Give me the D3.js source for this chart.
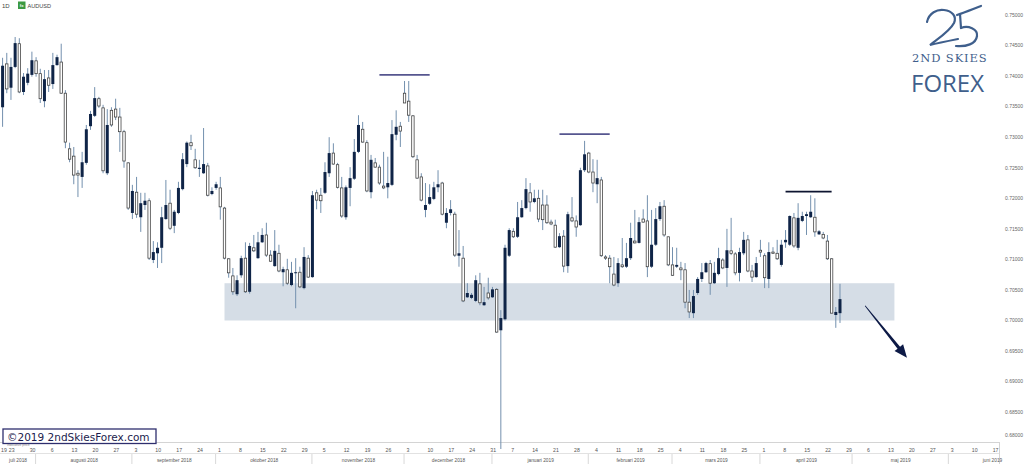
<!DOCTYPE html>
<html><head><meta charset="utf-8">
<script src="https://cdn.jsdelivr.net/npm/d3@7"></script>
<style>html,body{margin:0;padding:0;background:#fff;overflow:hidden}</style>
</head><body>
<svg id="c" width="1024" height="464"></svg>
<script>
// ---------- DATA ----------
const symbol = "AUDUSD";
const timeframe = "1D";
const firstDate = "2018-07-19";   // first candle
const lastDate  = "2019-04-26";   // last candle
const axisEnd   = "2019-06-20";   // right edge of time axis
const opens = [.7397,.7349,.7420,.7381,.7415,.7453,.7374,.7389,.7402,.7425,
.7404,.7359,.7397,.7387,.7418,.7423,.7372,.7281,.7269,.7241,
.7235,.7258,.7318,.7335,.7363,.7348,.7241,.7344,.7346,.7333,
.7309,.7258,.7176,.7210,.7169,.7189,.7196,.7099,.7110,.7119,
.7166,.7192,.7155,.7176,.7215,.7256,.7291,.7263,.7248,.7241,
.7253,.7207,.7217,.7217,.7184,.7101,.7073,.7043,.7074,.7102,
.7047,.7119,.7102,.7128,.7140,.7107,.7089,.7110,.7079,.7083,
.7058,.7078,.7079,.7053,.7102,.7071,.7209,.7205,.7209,.7241,
.7274,.7255,.7217,.7169,.7217,.7232,.7276,.7313,.7291,.7210,
.7258,.7251,.7220,.7218,.7222,.7304,.7318,.7372,.7359,.7335,
.7263,.7235,.7181,.7191,.7199,.7218,.7225,.7160,.7176,.7174,
.7106,.7102,.7038,.7037,.7032,.7060,.7025,.7045,.7038,.7051,
.6984,.7002,.7106,.7146,.7137,.7169,.7184,.7209,.7194,.7200,
.7189,.7189,.7161,.7156,.7120,.7138,.7089,.7168,.7163,.7156,
.7246,.7274,.7243,.7223,.7230,.7104,.7102,.7076,.7061,.7091,
.7088,.7102,.7130,.7127,.7166,.7163,.7088,.7124,.7166,.7187,
.7137,.7091,.7088,.7086,.7083,.7030,.7012,.7045,.7068,.7079,
.7093,.7061,.7076,.7099,.7086,.7114,.7109,.7078,.7110,.7132,
.7081,.7071,.7115,.7106,.7068,.7112,.7110,.7091,.7128,.7124,
.7168,.7119,.7163,.7171,.7169,.7169,.7141,.7141,.7130,.7101,
.7009,.7012];
const highs = [.7402,.7430,.7438,.7430,.7464,.7462,.7405,.7413,.7440,.7431,
.7412,.7410,.7410,.7438,.7435,.7453,.7377,.7291,.7284,.7246,
.7276,.7320,.7343,.7382,.7366,.7353,.7346,.7349,.7363,.7348,
.7312,.7259,.7222,.7235,.7209,.7209,.7200,.7130,.7128,.7186,
.7230,.7214,.7181,.7227,.7274,.7293,.7304,.7281,.7263,.7315,
.7258,.7218,.7227,.7235,.7186,.7102,.7086,.7074,.7106,.7128,
.7127,.7140,.7145,.7151,.7160,.7115,.7148,.7124,.7088,.7101,
.7096,.7102,.7088,.7120,.7107,.7212,.7214,.7217,.7259,.7300,
.7290,.7258,.7235,.7221,.7251,.7297,.7336,.7325,.7295,.7271,
.7266,.7255,.7276,.7268,.7328,.7344,.7325,.7392,.7392,.7336,
.7271,.7241,.7225,.7223,.7227,.7246,.7227,.7184,.7197,.7178,
.7148,.7122,.7061,.7045,.7074,.7078,.7055,.7070,.7055,.7053,
.7017,.7124,.7151,.7151,.7194,.7197,.7233,.7225,.7214,.7214,
.7214,.7205,.7165,.7165,.7143,.7148,.7178,.7202,.7172,.7250,
.7294,.7276,.7264,.7263,.7235,.7107,.7107,.7104,.7102,.7135,
.7127,.7160,.7181,.7169,.7182,.7205,.7181,.7184,.7194,.7197,
.7137,.7120,.7119,.7096,.7094,.7050,.7050,.7071,.7094,.7096,
.7099,.7096,.7119,.7102,.7150,.7168,.7112,.7119,.7145,.7140,
.7091,.7104,.7132,.7110,.7128,.7120,.7132,.7132,.7148,.7172,
.7176,.7192,.7178,.7178,.7205,.7200,.7148,.7145,.7140,.7102,
.7022,.7060];
const lows = [.7344,.7317,.7372,.7361,.7413,.7372,.7369,.7385,.7399,.7399,
.7356,.7349,.7374,.7379,.7417,.7371,.7282,.7259,.7223,.7202,
.7217,.7255,.7312,.7333,.7348,.7241,.7238,.7317,.7328,.7276,
.7250,.7181,.7166,.7168,.7145,.7181,.7099,.7094,.7086,.7094,
.7165,.7148,.7143,.7174,.7213,.7251,.7279,.7248,.7235,.7240,
.7203,.7205,.7214,.7165,.7100,.7070,.7042,.7040,.7070,.7045,
.7044,.7112,.7101,.7127,.7104,.7096,.7088,.7079,.7056,.7058,
.7056,.7020,.7053,.7051,.7070,.7070,.7182,.7176,.7207,.7235,
.7255,.7216,.7168,.7165,.7187,.7230,.7274,.7291,.7210,.7200,
.7250,.7222,.7215,.7200,.7220,.7295,.7284,.7356,.7325,.7266,
.7232,.7195,.7169,.7189,.7197,.7210,.7172,.7151,.7172,.7104,
.7088,.7030,.7037,.7035,.7030,.7025,.7024,.7034,.7037,.6980,
.6740,.7000,.7104,.7135,.7135,.7168,.7182,.7178,.7192,.7161,
.7148,.7158,.7156,.7119,.7119,.7079,.7078,.7161,.7137,.7155,
.7243,.7241,.7210,.7192,.7104,.7099,.7061,.7056,.7055,.7086,
.7086,.7099,.7126,.7126,.7160,.7071,.7086,.7122,.7163,.7137,
.7089,.7073,.7086,.7066,.7020,.7004,.7004,.7042,.7063,.7078,
.7042,.7060,.7074,.7084,.7055,.7107,.7074,.7064,.7107,.7079,
.7063,.7070,.7104,.7053,.7053,.7109,.7099,.7088,.7119,.7122,
.7119,.7115,.7161,.7140,.7168,.7137,.7140,.7133,.7099,.7012,
.6988,.6996];
const closes = [.7353,.7417,.7379,.7415,.7454,.7374,.7399,.7404,.7426,.7404,
.7363,.7395,.7385,.7418,.7431,.7372,.7292,.7264,.7238,.7238,
.7259,.7313,.7338,.7364,.7351,.7245,.7320,.7320,.7333,.7309,
.7261,.7184,.7212,.7174,.7192,.7196,.7102,.7112,.7119,.7169,
.7189,.7151,.7178,.7217,.7264,.7291,.7286,.7250,.7250,.7256,
.7205,.7212,.7223,.7186,.7102,.7078,.7047,.7066,.7102,.7047,
.7122,.7114,.7128,.7140,.7107,.7097,.7114,.7081,.7084,.7061,
.7078,.7079,.7055,.7104,.7071,.7205,.7197,.7196,.7243,.7274,
.7256,.7218,.7171,.7218,.7233,.7276,.7320,.7292,.7212,.7263,
.7251,.7225,.7217,.7225,.7305,.7317,.7310,.7356,.7336,.7268,
.7233,.7197,.7189,.7202,.7218,.7223,.7174,.7176,.7182,.7107,
.7110,.7032,.7045,.7042,.7066,.7029,.7030,.7037,.7051,.6981,
.7004,.7119,.7148,.7137,.7169,.7184,.7215,.7194,.7200,.7166,
.7165,.7160,.7158,.7120,.7138,.7089,.7174,.7163,.7153,.7246,
.7272,.7243,.7225,.7233,.7106,.7102,.7088,.7058,.7094,.7088,
.7102,.7135,.7127,.7161,.7161,.7088,.7124,.7166,.7187,.7140,
.7091,.7074,.7091,.7083,.7030,.7014,.7040,.7068,.7079,.7094,
.7061,.7078,.7102,.7086,.7115,.7110,.7078,.7112,.7132,.7081,
.7071,.7094,.7112,.7070,.7112,.7110,.7101,.7124,.7132,.7171,
.7122,.7168,.7171,.7174,.7178,.7145,.7146,.7135,.7101,.7012,
.7014,.7035];
const priceTicks = [0.75,0.745,0.74,0.735,0.73,0.725,0.72,0.715,0.71,0.705,0.70,0.695,0.69,0.685,0.68];
const monthNames = ["januari","februari","mars","april","maj","juni","juli","augusti","september","oktober","november","december"];
const supportZone = {from:"2018-10-03", to:"2019-05-15", low:0.7000, high:0.7061};
const resistanceLines = [
  {from:"2018-11-23", to:"2018-12-11", price:0.7402, color:"#56568f"},
  {from:"2019-01-23", to:"2019-02-08", price:0.7305, color:"#56568f"},
  {from:"2019-04-09", to:"2019-04-24", price:0.7211, color:"#0d1430"}
];
const arrowAnn = {from:"2019-05-06", fromPrice:0.7024, to:"2019-05-20", toPrice:0.6939};
const copyright = "©2019 2ndSkiesForex.com";

// ---------- SCALES ----------
const W = 1024, H = 464;
const parse = d3.utcParse("%Y-%m-%d"), fmt = d3.utcFormat("%Y-%m-%d");
const axisDays = d3.utcDays(parse(firstDate), d3.utcDay.offset(parse(axisEnd),1))
  .filter(d => d.getUTCDay() !== 0 && d.getUTCDay() !== 6);
const keys = axisDays.map(fmt);
const step = 4.187;
const x = d3.scalePoint().domain(keys).range([-1.6, -1.6 + step*(keys.length-1)]);
const y = d3.scaleLinear().domain([0.68, 0.75]).range([442.7, 15.0]);
const candleKeys = keys.slice(0, keys.indexOf(lastDate)+1);
const candles = candleKeys.map((k,i)=>({k, o:opens[i], h:highs[i], l:lows[i], c:closes[i]}));

const svg = d3.select("#c");
svg.append("rect").attr("width",W).attr("height",H).attr("fill","#fff");
const defs = svg.append("defs");
defs.append("clipPath").attr("id","plot").append("rect").attr("x",0).attr("y",0).attr("width",999).attr("height",449);

// time axis frame
svg.append("line").attr("x1",0).attr("x2",999).attr("y1",442.5).attr("y2",442.5).attr("stroke","#d4d4d4");
svg.append("line").attr("x1",0).attr("x2",999).attr("y1",453.5).attr("y2",453.5).attr("stroke","#e2e2e2");
svg.append("line").attr("x1",999.5).attr("x2",999.5).attr("y1",442).attr("y2",464).attr("stroke","#d4d4d4");

// support zone
svg.append("rect")
  .attr("x", x(supportZone.from)).attr("width", x(supportZone.to)-x(supportZone.from))
  .attr("y", y(supportZone.high)).attr("height", y(supportZone.low)-y(supportZone.high))
  .attr("fill","#d5dde6");

// candles
const g = svg.append("g").attr("clip-path","url(#plot)");
g.selectAll("line.wick").data(candles).join("line").attr("class","wick")
  .attr("x1",d=>x(d.k)).attr("x2",d=>x(d.k))
  .attr("y1",d=>y(d.h)).attr("y2",d=>y(d.l))
  .attr("stroke","#7390ae").attr("stroke-width",1);
g.selectAll("rect.up").data(candles.filter(d=>d.c>=d.o)).join("rect").attr("class","up")
  .attr("x",d=>x(d.k)-1.5).attr("width",3)
  .attr("y",d=>y(d.c)).attr("height",d=>Math.max(1, y(d.o)-y(d.c)))
  .attr("fill","#0f2447");
g.selectAll("rect.dn").data(candles.filter(d=>d.c<d.o)).join("rect").attr("class","dn")
  .attr("x",d=>x(d.k)-1.2).attr("width",2.4)
  .attr("y",d=>y(d.o)).attr("height",d=>Math.max(0.8, y(d.c)-y(d.o)))
  .attr("fill","#fff").attr("stroke","#3a3a3a").attr("stroke-width",0.75);

// resistance lines
svg.selectAll("line.res").data(resistanceLines).join("line").attr("class","res")
  .attr("x1",d=>x(d.from)).attr("x2",d=>x(d.to))
  .attr("y1",d=>y(d.price)).attr("y2",d=>y(d.price))
  .attr("stroke",d=>d.color).attr("stroke-width",1.8);

// arrow
(function(){
  const sx=x(arrowAnn.from), sy=y(arrowAnn.fromPrice), tx=x(arrowAnn.to), ty=y(arrowAnn.toPrice);
  const len=Math.hypot(tx-sx,ty-sy), ux=(tx-sx)/len, uy=(ty-sy)/len, nx=-uy, ny=ux;
  const hl=13, bx=tx-ux*hl, by=ty-uy*hl;
  const pts=[[sx+nx*0.4,sy+ny*0.4],[bx+nx*1.6,by+ny*1.6],[bx+nx*5.5,by+ny*5.5],[tx,ty],[bx-nx*5.5,by-ny*5.5],[bx-nx*1.6,by-ny*1.6],[sx-nx*0.4,sy-ny*0.4]];
  svg.append("path").attr("d",d3.line()(pts)+"Z").attr("fill","#0d1a46");
})();

// y axis labels
const f5 = d3.format(".5f");
svg.selectAll("text.yl").data(priceTicks).join("text").attr("class","yl")
  .attr("x",1005).attr("y",d=>Math.min(y(d)+1.8, 437))
  .attr("font-family","Liberation Sans, Arial, sans-serif").attr("font-size",5)
  .attr("fill","#666").text(d=>f5(d));

// x axis row 1 (weekly)
const weekTicks = keys.filter((k,i)=> i===0 || parse(k).getUTCDay()===1);
svg.selectAll("text.xl").data(weekTicks).join("text").attr("class","xl")
  .attr("x",d=>Math.max(1, x(d)+2)).attr("y",451.5)
  .attr("font-family","Liberation Sans, Arial, sans-serif").attr("font-size",5.2)
  .attr("fill","#555").text(d=>String(parse(d).getUTCDate()));

// x axis row 2 (months)
const months = d3.utcMonths(d3.utcMonth.floor(parse(firstDate)), d3.utcMonth.offset(d3.utcMonth.floor(parse(axisEnd)),1));
months.forEach((m,i)=>{
  const k0 = keys.find(kk => kk.slice(0,7)===fmt(m).slice(0,7));
  const x0 = (i===0)? 0 : x(k0);
  const nm = d3.utcMonth.offset(m,1);
  const kNext = keys.find(kk => kk.slice(0,7)===fmt(nm).slice(0,7));
  const x1 = kNext ? x(kNext) : x(keys[keys.length-1]) + step*(d3.utcDay.count(parse(keys[keys.length-1]), nm)*5/7);
  if(i>0) svg.append("line").attr("x1",x0-0.5).attr("x2",x0-0.5).attr("y1",454).attr("y2",464).attr("stroke","#d8d8d8");
  svg.append("text").attr("x",(Math.max(0,x0)+x1)/2).attr("y",461.5).attr("text-anchor","middle")
    .attr("font-family","Liberation Sans, Arial, sans-serif").attr("font-size",4.8).attr("fill","#555")
    .text(monthNames[m.getUTCMonth()]+" "+m.getUTCFullYear());
});

// header
svg.append("text").attr("x",2).attr("y",7.5).attr("font-family","Liberation Sans, Arial, sans-serif").attr("font-size",6).attr("fill","#444").text(timeframe);
svg.append("rect").attr("x",18).attr("y",1.5).attr("width",7.5).attr("height",7.5).attr("fill","#3d9a42");
svg.append("text").attr("x",21.7).attr("y",7.2).attr("text-anchor","middle").attr("font-family","Liberation Sans, Arial, sans-serif").attr("font-size",4.2).attr("font-weight","bold").attr("fill","#fff").text("fx");
svg.append("text").attr("x",27.5).attr("y",7.5).attr("font-family","Liberation Sans, Arial, sans-serif").attr("font-size",5.6).attr("fill","#444").text(symbol);

// copyright box
svg.append("text").attr("x",7).attr("y",446.3).attr("font-family","Liberation Sans, Arial, sans-serif").attr("font-size",3.4).attr("fill","#888").text("Indicative price");
svg.append("rect").attr("x",3).attr("y",429).attr("width",153).attr("height",14.5).attr("fill","#fff").attr("stroke","#2e2e6e").attr("stroke-width",1.3);
svg.append("text").attr("x",7).attr("y",440.5).attr("font-family","DejaVu Sans, sans-serif").attr("font-size",10.5).attr("fill","#1b1c4d").text(copyright);

// logo
const logo = svg.append("g").attr("fill","none").attr("stroke","#3f5f8c").attr("stroke-width",2.2).attr("stroke-linecap","round");
logo.append("path").attr("d","M927,22 C929,13 937,9 944,10 C952,11 957,16 954,23 C950,31 939,38 930,45 C938,43 948,41 958,39");
logo.append("path").attr("d","M957,15 C966,12 973,9 981,6");
logo.append("path").attr("d","M960,14 L961,28");
logo.append("path").attr("d","M961,28 C968,25 978,29 977,36 C976,44 966,47 956,46");
svg.append("text").attr("x",912).attr("y",62).attr("font-family","DejaVu Serif, Liberation Serif, serif").attr("fill","#3f5f8c").attr("letter-spacing",0.9)
  .attr("font-size",11.5).text("2ND SKIES");
svg.append("text").attr("x",911).attr("y",92).attr("font-family","Open Sans, sans-serif").attr("font-size",24).attr("fill","#3f5f8c").text("FOREX");
</script>
</body></html>
